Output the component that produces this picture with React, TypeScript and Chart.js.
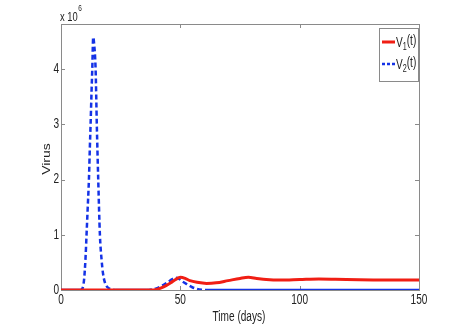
import React, { useEffect, useRef } from "react";
import { Chart, registerables } from "chart.js";

Chart.register(...registerables);

// Time points and values (in units of 10^6)
const tV1 = [0, 38, 40, 42, 44, 46, 48, 50, 52, 54, 57, 61, 65, 70, 75, 78.5, 82, 86, 92, 100, 108, 115, 125, 135, 150];
const V1 = [0, 0, 0.01, 0.04, 0.08, 0.13, 0.19, 0.23, 0.21, 0.17, 0.14, 0.12, 0.13, 0.17, 0.21, 0.23, 0.21, 0.19, 0.18, 0.19, 0.2, 0.195, 0.185, 0.18, 0.18];

const tV2 = [0, 8, 9, 9.7, 10.3, 10.7, 11.2, 11.7, 12.1, 12.4, 12.8, 13.1, 13.5, 13.9, 14.5, 15, 15.6, 16.3, 17, 17.6, 18.5, 19.5, 21, 23, 36, 38, 40, 42, 44, 46, 47, 48, 49.5, 51, 53, 55, 57, 59, 62, 150];
const V2 = [0, 0, 0.03, 0.2, 0.6, 1.0, 1.5, 2.0, 2.6, 3.0, 3.6, 4.0, 4.58, 4.45, 4.0, 3.0, 2.0, 1.0, 0.55, 0.3, 0.12, 0.05, 0.015, 0, 0, 0.01, 0.03, 0.07, 0.12, 0.18, 0.21, 0.22, 0.2, 0.15, 0.1, 0.05, 0.02, 0.005, 0, 0];

const xTicks = [0, 50, 100, 150];
const yTicks = [0, 1, 2, 3, 4];
const xLabel = "Time (days)";
const yLabel = "Virus";
const legendNames = ["V", "V"];
const legendSubs = ["1", "2"];

const RED = "rgb(240,30,20)";
const BLUE = "rgb(20,50,230)";
const FRAME = "#8a8a8a";
const TEXT = "#222";
const FONT = "Liberation Sans, Arial, sans-serif";
const SX = 0.72;

function txt(ctx: CanvasRenderingContext2D, s: string, x: number, y: number, size: number, align: CanvasTextAlign, baseline: CanvasTextBaseline, rot = false) {
  ctx.save();
  ctx.translate(x, y);
  if (rot) {
    ctx.rotate(-Math.PI / 2);
    ctx.scale(1, SX);
  } else {
    ctx.scale(SX, 1);
  }
  ctx.font = `${size}px ${FONT}`;
  ctx.fillStyle = TEXT;
  ctx.textAlign = align;
  ctx.textBaseline = baseline;
  ctx.fillText(s, 0, 0);
  ctx.restore();
}

function textW(ctx: CanvasRenderingContext2D, s: string, size: number) {
  ctx.save();
  ctx.font = `${size}px ${FONT}`;
  const w = ctx.measureText(s).width * SX;
  ctx.restore();
  return w;
}

const framePlugin = {
  id: "matlabFrame",
  beforeDatasetsDraw(chart: any) {
    const { ctx, chartArea: a, scales } = chart;
    ctx.save();
    ctx.strokeStyle = FRAME;
    ctx.lineWidth = 1;
    ctx.strokeRect(Math.round(a.left) + 0.5, Math.round(a.top) + 0.5, Math.round(a.right - a.left), Math.round(a.bottom - a.top));
    const tl = 4;
    ctx.beginPath();
    xTicks.forEach((v) => {
      const px = Math.round(scales.x.getPixelForValue(v)) + 0.5;
      ctx.moveTo(px, a.bottom);
      ctx.lineTo(px, a.bottom - tl);
      ctx.moveTo(px, a.top);
      ctx.lineTo(px, a.top + tl);
    });
    yTicks.forEach((v) => {
      const py = Math.round(scales.y.getPixelForValue(v)) + 0.5;
      ctx.moveTo(a.left, py);
      ctx.lineTo(a.left + tl, py);
      ctx.moveTo(a.right, py);
      ctx.lineTo(a.right - tl, py);
    });
    ctx.stroke();
    ctx.restore();
  },
  afterDraw(chart: any) {
    const { ctx, chartArea: a, scales } = chart;
    const fs = 14;
    xTicks.forEach((v) => {
      txt(ctx, String(v), scales.x.getPixelForValue(v), a.bottom + 3, fs, "center", "top");
    });
    yTicks.forEach((v) => {
      txt(ctx, String(v), a.left - 2, scales.y.getPixelForValue(v), fs, "right", "middle");
    });
    // exponent
    txt(ctx, "x 10", a.left - 1, a.top - 3, 13, "left", "alphabetic");
    const w10 = textW(ctx, "x 10", 13);
    txt(ctx, "6", a.left - 1 + w10 + 0.5, a.top - 13, 9, "left", "alphabetic");
    // axis titles
    txt(ctx, xLabel, (a.left + a.right) / 2 - 1, 317, fs, "center", "middle");
    txt(ctx, yLabel, 47, 159, fs, "center", "middle", true);

    // legend
    const bx = 379, by = 28, bw = 39, bh = 53;
    ctx.save();
    ctx.fillStyle = "#fff";
    ctx.fillRect(bx, by, bw, bh);
    ctx.strokeStyle = FRAME;
    ctx.lineWidth = 1;
    ctx.strokeRect(bx + 0.5, by + 0.5, bw, bh);
    const rows = [42, 64];
    const colors = [RED, BLUE];
    rows.forEach((ry, i) => {
      ctx.save();
      ctx.strokeStyle = colors[i];
      ctx.lineWidth = i === 0 ? 3 : 2.5;
      if (i === 1) ctx.setLineDash([3, 2]);
      ctx.beginPath();
      ctx.moveTo(382, ry);
      ctx.lineTo(395, ry);
      ctx.stroke();
      ctx.restore();
      let x = 396;
      txt(ctx, legendNames[i], x, ry + 5, fs, "left", "alphabetic");
      x += textW(ctx, legendNames[i], fs);
      txt(ctx, legendSubs[i], x, ry + 8, 10, "left", "alphabetic");
      x += textW(ctx, legendSubs[i], 10);
      txt(ctx, "(t)", x, ry + 3, fs, "left", "alphabetic");
    });
    ctx.restore();
  },
};

export default function App() {
  const ref = useRef<HTMLCanvasElement>(null);
  useEffect(() => {
    document.body.style.margin = "0";
    const canvas = ref.current!;
    const d1 = tV1.map((t, i) => ({ x: t, y: V1[i] }));
    const d2 = tV2.map((t, i) => ({ x: t, y: V2[i] }));
    const chart = new Chart(canvas, {
      type: "line",
      data: {
        datasets: [
          {
            label: "V1(t)",
            data: d1,
            borderColor: RED,
            borderWidth: 3,
            pointRadius: 0,
            cubicInterpolationMode: "monotone",
            fill: false,
          },
          {
            label: "V2(t)",
            data: d2,
            borderColor: BLUE,
            borderWidth: 2.5,
            pointRadius: 0,
            cubicInterpolationMode: "monotone",
            fill: false,
            segment: {
              borderDash: (c: any) => (c.p0.parsed.y < 0.001 && c.p1.parsed.y < 0.001 ? [] : [5, 3]),
            },
          },
        ],
      },
      options: {
        responsive: false,
        animation: false,
        events: [],
        layout: { padding: { top: 24, right: 44, left: 0, bottom: 0 } },
        plugins: { legend: { display: false }, tooltip: { enabled: false } },
        scales: {
          x: {
            type: "linear",
            min: 0,
            max: 150,
            grid: { display: false, drawTicks: false },
            border: { display: false },
            ticks: { display: false },
            afterFit: (s: any) => {
              s.height = 37;
            },
          },
          y: {
            type: "linear",
            min: 0,
            max: 4.82,
            grid: { display: false, drawTicks: false },
            border: { display: false },
            ticks: { display: false },
            afterFit: (s: any) => {
              s.width = 61;
            },
          },
        },
      } as any,
      plugins: [framePlugin],
    });
    return () => chart.destroy();
  }, []);
  return <canvas ref={ref} width={463} height={327} style={{ display: "block" }} />;
}
